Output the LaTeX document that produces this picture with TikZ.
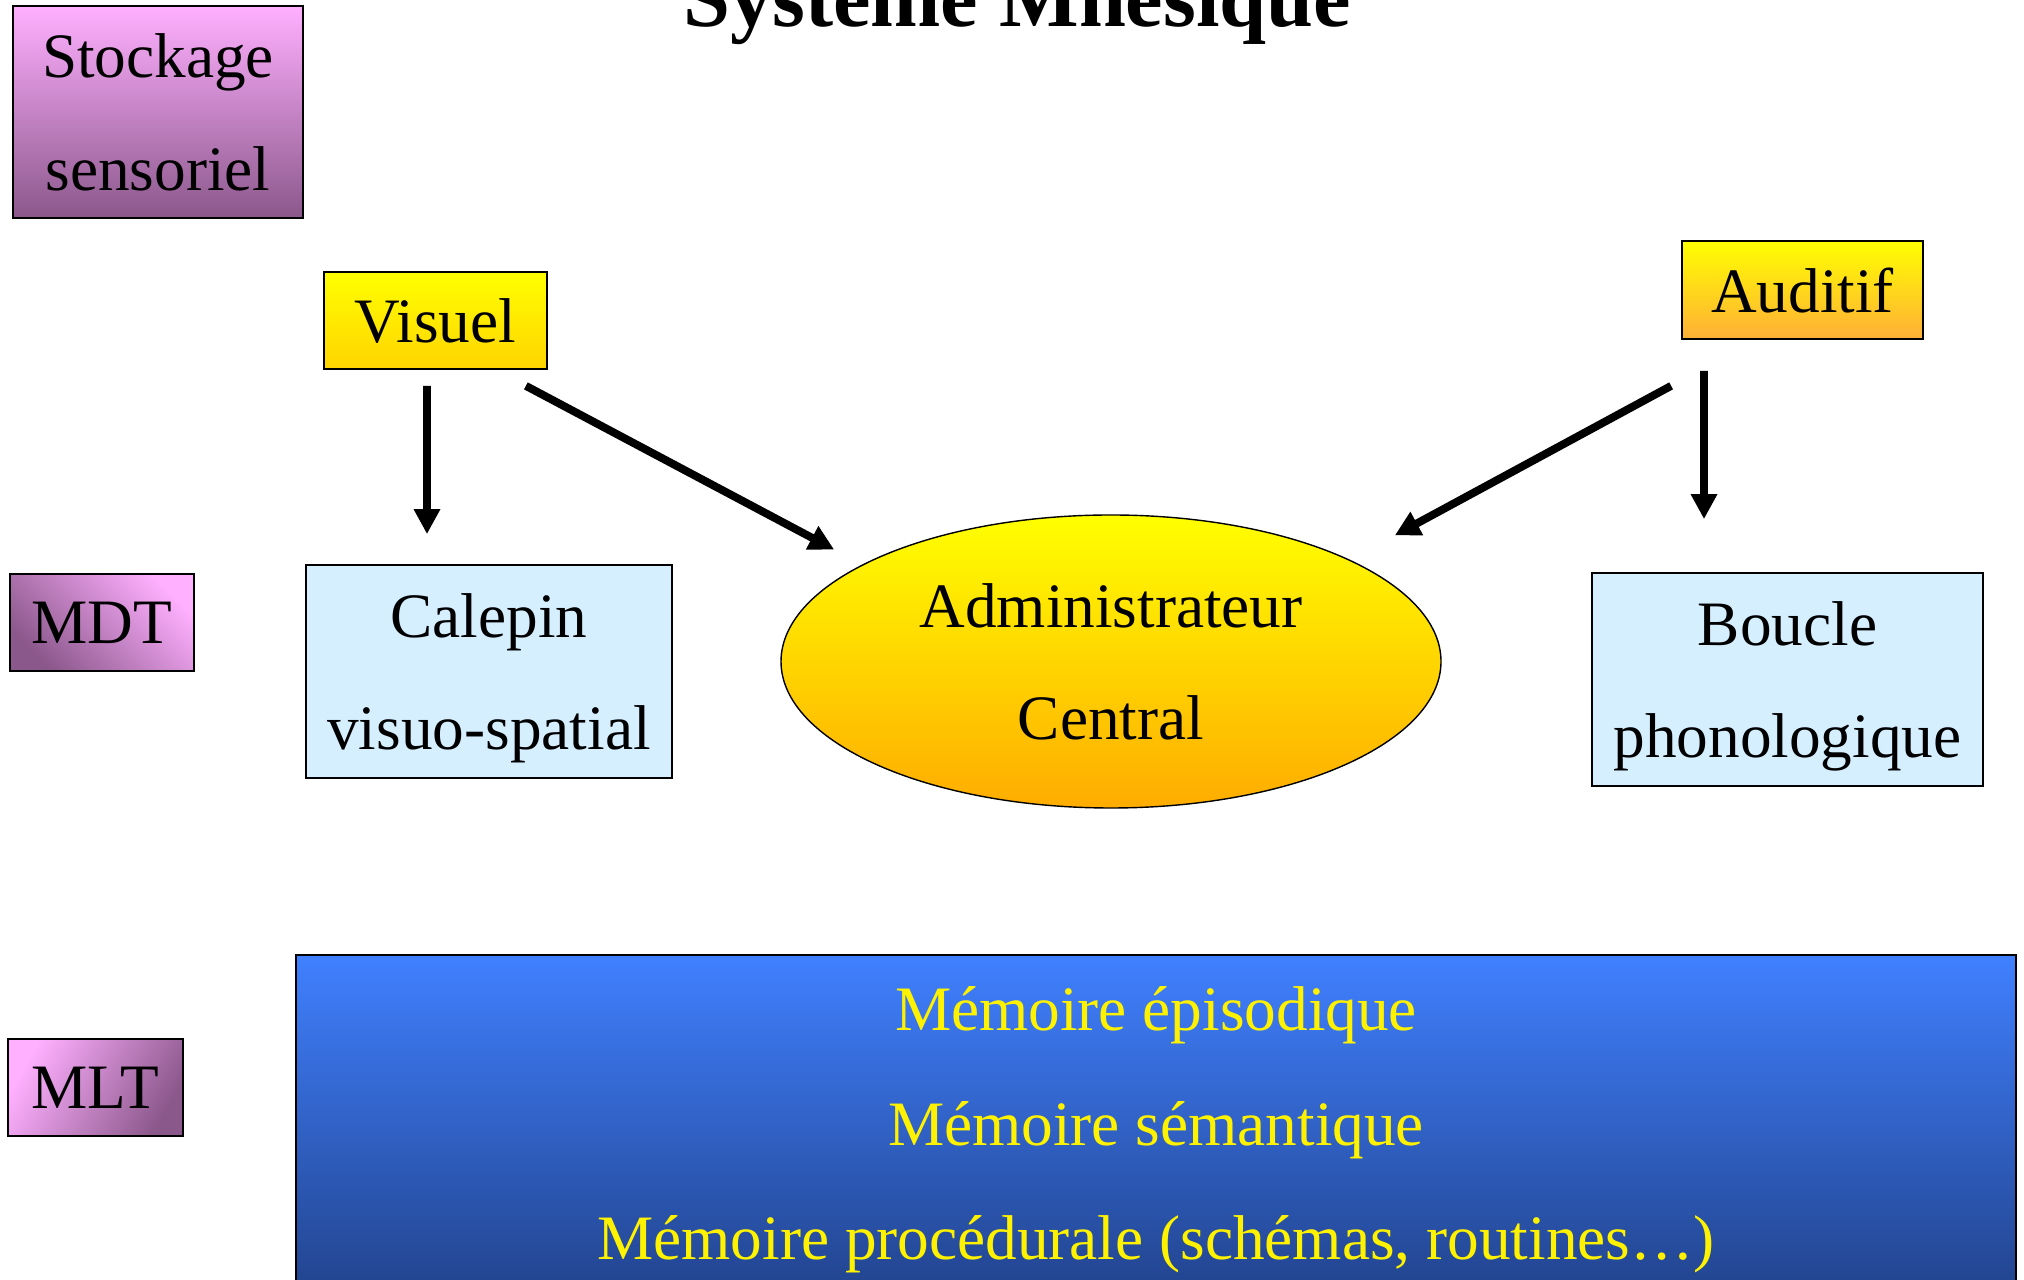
\documentclass[tikz,border=0pt]{standalone}
\usepackage{fontspec}
\setmainfont{Liberation Serif}
\usepackage{xcolor}
\usepackage{tikz}
\usetikzlibrary{arrows.meta,shapes.geometric}

\definecolor{plumtop}{RGB}{255,176,255}
\definecolor{plumbot}{RGB}{139,88,139}
\definecolor{sky}{RGB}{213,239,255}
\definecolor{goldbot}{RGB}{255,212,0}
\definecolor{orangebot}{RGB}{255,172,0}
\definecolor{amberbot}{RGB}{255,175,55}
\definecolor{bluetop}{RGB}{64,128,255}
\definecolor{bluebot}{RGB}{34,68,142}

\begin{document}
\begin{tikzpicture}[
  box/.style={draw,line width=1pt,inner sep=0pt,align=center,text depth=-4.4pt,
              font=\fontsize{36}{64}\selectfont},
  level/.style={box,top color=plumtop,bottom color=plumbot},
  sense/.style={box,top color=yellow,bottom color=goldbot},
  store/.style={box,fill=sky},
  arr/.style={-{Triangle[length=0.5cm,width=0.5cm]},line width=4.5pt}]

  \useasboundingbox (0,0) rectangle (40.48,25.58);

  \node[anchor=base,font=\fontsize{48}{56}\selectfont\bfseries] (titre) at (20.34,25.04) {Système Mnésique};

  % Levels on the left
  \node[level,minimum width=5.8cm,minimum height=4.24cm] (stock) at (3.16,23.34) {Stockage\\sensoriel};
  \node[level,shading angle=-45,minimum width=3.68cm,minimum height=1.94cm] (mdt) at (2.04,13.13) {MDT};
  \node[level,shading angle=60,minimum width=3.5cm,minimum height=1.94cm] (mlt) at (1.91,3.83) {MLT};

  % Inputs
  \node[sense,minimum width=4.46cm,minimum height=1.94cm] (visuel) at (8.71,19.17) {Visuel};
  \node[sense,top color=yellow,bottom color=amberbot,minimum width=4.82cm,minimum height=1.96cm] (auditif) at (36.05,19.78) {Auditif};

  % Working memory
  \node[store,minimum width=7.32cm,minimum height=4.26cm] (calepin) at (9.78,12.15) {Calepin\\visuo-spatial};
  \node[box,ellipse,line width=0.8pt,top color=yellow,bottom color=orangebot,
        minimum width=13.2cm,minimum height=5.86cm] (admin) at (22.22,12.35) {Administrateur\\Central};
  \node[store,minimum width=7.82cm,minimum height=4.26cm] (boucle) at (35.75,11.99) {Boucle\\phonologique};

  % Long-term memory
  \node[box,anchor=north,top color=bluetop,bottom color=bluebot,text=yellow,text depth=0pt,
        font=\fontsize{36}{65}\selectfont,inner ysep=0.64cm,minimum width=34.4cm] (ltm) at (23.12,6.5)
    {Mémoire épisodique\\Mémoire sémantique\\Mémoire procédurale (schémas, routines…)};

  % Arrows
  \draw[arr] ([xshift=-0.17cm,yshift=-0.32cm]visuel.south) -- ([xshift=-1.24cm,yshift=0.6cm]calepin.north);
  \draw[arr] ([xshift=-0.44cm,yshift=-0.32cm]visuel.south east) -- ([xshift=-0.64cm,yshift=0.26cm]admin.158);
  \draw[arr] ([xshift=-0.2cm,yshift=-0.92cm]auditif.south west) -- ([xshift=1cm,yshift=0.44cm]admin.24);
  \draw[arr] ([xshift=-1.97cm,yshift=-0.62cm]auditif.south) -- ([xshift=-1.67cm,yshift=1.06cm]boucle.north);
\end{tikzpicture}
\end{document}
